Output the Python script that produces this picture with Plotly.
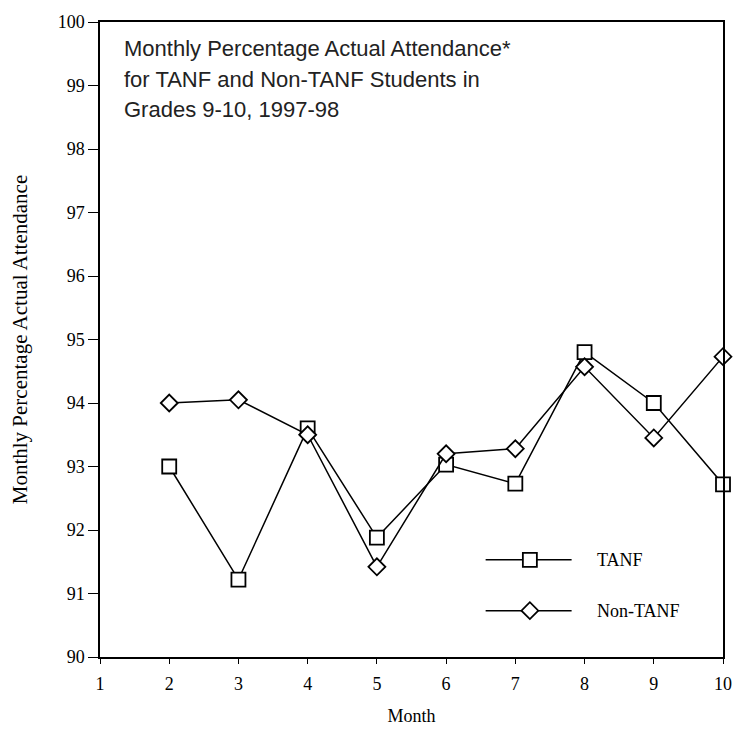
import plotly.graph_objects as go

months = [2, 3, 4, 5, 6, 7, 8, 9, 10]
tanf = [93.0, 91.22, 93.6, 91.88, 93.03, 92.73, 94.8, 94.0, 92.72]
non_tanf = [94.0, 94.05, 93.5, 91.42, 93.2, 93.28, 94.57, 93.45, 94.73]
series_names = ["TANF", "Non-TANF"]
x_ticks = list(range(1, 11))
y_ticks = list(range(90, 101))
title_lines = [
    "Monthly Percentage Actual Attendance*",
    "for TANF and Non-TANF Students in",
    "Grades 9-10, 1997-98",
]

serif = "Liberation Serif, Times New Roman, serif"
sans = "Liberation Sans, Arial, Helvetica, sans-serif"

fig = go.Figure()
fig.add_trace(go.Scatter(
    x=months, y=tanf, mode="lines+markers", name=series_names[0],
    line=dict(color="black", width=1.5),
    marker=dict(symbol="square", size=14, color="white", line=dict(color="black", width=1.8)),
    cliponaxis=False, showlegend=False,
))
fig.add_trace(go.Scatter(
    x=months, y=non_tanf, mode="lines+markers", name=series_names[1],
    line=dict(color="black", width=1.5),
    marker=dict(symbol="diamond", size=13, color="white", line=dict(color="black", width=1.8)),
    cliponaxis=False, showlegend=False,
))

# Manual legend on an overlay axis (0-1 fraction of plot area)
leg_x = [0.619, 0.757]
leg_mark_x = 0.69
leg_rows = [(0.153, "square", 14), (0.073, "diamond", 13)]
for (yy, sym, sz), nm in zip(leg_rows, series_names):
    fig.add_trace(go.Scatter(
        x=leg_x, y=[yy, yy], mode="lines",
        xaxis="x2", yaxis="y2", showlegend=False, hoverinfo="skip",
        line=dict(color="black", width=1.5),
    ))
    fig.add_trace(go.Scatter(
        x=[leg_mark_x], y=[yy], mode="markers",
        xaxis="x2", yaxis="y2", showlegend=False, hoverinfo="skip",
        marker=dict(symbol=sym, size=sz, color="white", line=dict(color="black", width=1.8)),
    ))
    fig.add_annotation(x=0.795, y=yy, xref="x2", yref="y2", text=nm, showarrow=False,
                       xanchor="left", yanchor="middle",
                       font=dict(family=serif, size=18, color="black"))

for i, line in enumerate(title_lines):
    fig.add_annotation(x=0.036, y=1 - (27 + 30.5 * i) / 640, xref="paper", yref="paper",
                       text=line, showarrow=False, xanchor="left", yanchor="middle",
                       font=dict(family=sans, size=22, color="#222"))

fig.update_layout(
    width=744, height=735,
    margin=dict(l=100, r=14, t=18, b=77),
    paper_bgcolor="white", plot_bgcolor="white",
    font=dict(family=serif, size=14, color="black"),
    xaxis=dict(range=[1, 10], tickvals=x_ticks, showgrid=False, zeroline=False,
               showline=True, linecolor="black", linewidth=1.5, mirror=True,
               ticks="outside", ticklen=5, tickcolor="black", ticklabelstandoff=5,
               tickfont=dict(family=serif, size=18),
               title=dict(text="Month", font=dict(family=serif, size=18), standoff=16)),
    yaxis=dict(range=[90, 100], tickvals=y_ticks, showgrid=False, zeroline=False,
               showline=True, linecolor="black", linewidth=1.5, mirror=True,
               ticks="outside", ticklen=10, tickcolor="black",
               tickfont=dict(family=serif, size=18),
               title=dict(text="Monthly Percentage Actual Attendance", font=dict(family=serif, size=21), standoff=24)),
    xaxis2=dict(range=[0, 1], overlaying="x", visible=False),
    yaxis2=dict(range=[0, 1], overlaying="y", visible=False),
)

fig.write_html("out.html")
